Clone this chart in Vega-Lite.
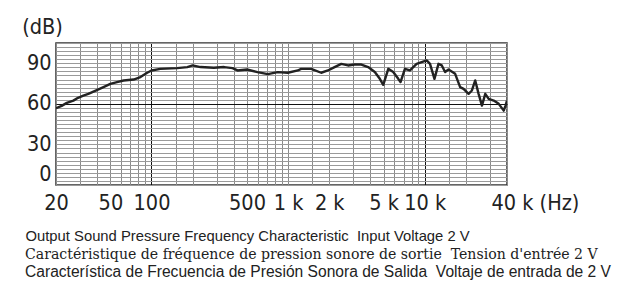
{
  "$schema": "https://vega.github.io/schema/vega-lite/v6.json",
  "width": 451,
  "height": 142,
  "autosize": {"type": "none"},
  "padding": {"left": 56, "top": 43, "right": 121, "bottom": 108},
  "background": "#ffffff",
  "config": {
    "view": {"stroke": "#333333", "strokeWidth": 1.5},
    "font": "Liberation Sans"
  },
  "title": {
    "text": "Caractéristique de fréquence de pression sonore de sortie\u00a0 Tension d'entrée 2 V",
    "subtitle": "Característica de Frecuencia de Presión Sonora de Salida\u00a0 Voltaje de entrada de 2 V",
    "orient": "bottom",
    "anchor": "start",
    "frame": "group",
    "dx": -31,
    "offset": 5,
    "font": "DejaVu Serif",
    "fontSize": 14.1,
    "fontWeight": "normal",
    "color": "#222222",
    "subtitleFont": "Liberation Sans",
    "subtitleFontSize": 15.6,
    "subtitleColor": "#222222",
    "subtitlePadding": 3
  },
  "data": {
    "values": [
      {"freq": 20, "spl": 56.8},
      {"freq": 22, "spl": 58.5},
      {"freq": 24, "spl": 60.7},
      {"freq": 26.8, "spl": 62.4},
      {"freq": 29, "spl": 64.5},
      {"freq": 31.7, "spl": 66.1},
      {"freq": 34.5, "spl": 67.4},
      {"freq": 37.6, "spl": 69.1},
      {"freq": 44.5, "spl": 72.4},
      {"freq": 50, "spl": 74.8},
      {"freq": 55.9, "spl": 76.1},
      {"freq": 62.5, "spl": 77.3},
      {"freq": 74, "spl": 78},
      {"freq": 83, "spl": 79.8},
      {"freq": 93, "spl": 83},
      {"freq": 100, "spl": 84.7},
      {"freq": 116, "spl": 85.9},
      {"freq": 154, "spl": 86.4},
      {"freq": 183, "spl": 87.2},
      {"freq": 200, "spl": 88.4},
      {"freq": 228, "spl": 87.2},
      {"freq": 286, "spl": 86.7},
      {"freq": 340, "spl": 87.2},
      {"freq": 392, "spl": 86.4},
      {"freq": 426, "spl": 84.7},
      {"freq": 500, "spl": 85.4},
      {"freq": 596, "spl": 83.5},
      {"freq": 710, "spl": 82},
      {"freq": 840, "spl": 83.5},
      {"freq": 994, "spl": 83},
      {"freq": 1178, "spl": 84.7},
      {"freq": 1245, "spl": 85.9},
      {"freq": 1475, "spl": 85.9},
      {"freq": 1746, "spl": 83},
      {"freq": 1956, "spl": 84.7},
      {"freq": 2188, "spl": 87.2},
      {"freq": 2450, "spl": 89.6},
      {"freq": 2746, "spl": 88.4},
      {"freq": 3069, "spl": 89.1},
      {"freq": 3437, "spl": 89.1},
      {"freq": 3853, "spl": 87.2},
      {"freq": 4310, "spl": 83.5},
      {"freq": 4690, "spl": 78.5},
      {"freq": 4970, "spl": 74.1},
      {"freq": 5410, "spl": 85.9},
      {"freq": 5880, "spl": 83.5},
      {"freq": 6400, "spl": 78.5},
      {"freq": 6650, "spl": 76.1},
      {"freq": 7160, "spl": 85.9},
      {"freq": 7790, "spl": 84.7},
      {"freq": 8720, "spl": 89.6},
      {"freq": 9490, "spl": 90.9},
      {"freq": 10330, "spl": 92.1},
      {"freq": 10930, "spl": 89.6},
      {"freq": 11780, "spl": 78.5},
      {"freq": 12600, "spl": 89.6},
      {"freq": 13330, "spl": 88.4},
      {"freq": 14090, "spl": 83.5},
      {"freq": 14930, "spl": 85.4},
      {"freq": 16690, "spl": 82.2},
      {"freq": 18160, "spl": 72.4},
      {"freq": 19230, "spl": 71.1},
      {"freq": 20940, "spl": 67.4},
      {"freq": 22140, "spl": 69.9},
      {"freq": 23410, "spl": 77.3},
      {"freq": 24790, "spl": 67.4},
      {"freq": 26220, "spl": 58.7},
      {"freq": 27740, "spl": 67.4},
      {"freq": 29370, "spl": 63.7},
      {"freq": 31970, "spl": 62.4},
      {"freq": 34790, "spl": 60},
      {"freq": 37850, "spl": 55},
      {"freq": 39000, "spl": 58.7},
      {"freq": 40000, "spl": 62.4}
    ]
  },
  "mark": {"type": "line", "color": "#222222", "strokeWidth": 2.4, "strokeJoin": "round", "clip": true},
  "encoding": {
    "x": {
      "field": "freq",
      "type": "quantitative",
      "scale": {"type": "log", "domain": [20, 40000], "nice": false},
      "axis": {
        "values": [20, 30, 40, 50, 60, 70, 80, 90, 100, 150, 200, 300, 400, 500, 600, 700, 800, 900, 1000, 1500, 2000, 3000, 4000, 5000, 6000, 7000, 8000, 9000, 10000, 15000, 20000, 30000, 40000],
        "labelExpr": "datum.value==20?'20':datum.value==50?'50':datum.value==100?'100':datum.value==500?'500':datum.value==1000?'1 k':datum.value==2000?'2 k':datum.value==5000?'5 k':datum.value==10000?'10 k':datum.value==40000?'40 k (Hz)':''",
        "labelAlign": {"condition": {"test": "datum.value==40000", "value": "left"}, "value": "center"},
        "labelOffset": {"condition": {"test": "datum.value==40000", "value": -16}, "value": 0},
        "labelOverlap": false,
        "labelFlush": false,
        "labelBound": false,
        "labelFont": "'DejaVu Sans Condensed', 'Roboto', sans-serif",
        "labelFontSize": 21.5,
        "labelColor": "#222222",
        "labelPadding": 7,
        "ticks": false,
        "domain": false,
        "grid": true,
        "gridColor": {"condition": {"test": "datum.value==100 || datum.value==10000", "value": "#111111"}, "value": "#8a8a8a"},
        "gridWidth": 1,
        "gridOpacity": 1,
        "title": "Output Sound Pressure Frequency Characteristic\u00a0 Input Voltage 2 V",
        "titleFont": "Liberation Sans",
        "titleFontSize": 14.8,
        "titleFontWeight": "normal",
        "titleColor": "#222222",
        "titleAnchor": "start",
        "titleAlign": "left",
        "titleBaseline": "alphabetic",
        "titleX": -31,
        "titleY": 55
      }
    },
    "y": {
      "field": "spl",
      "type": "quantitative",
      "scale": {"domain": [0, 105], "nice": false},
      "axis": {
        "values": [0, 3, 6, 9, 12, 15, 18, 21, 24, 27, 30, 33, 36, 39, 42, 45, 48, 51, 54, 57, 60, 63, 66, 69, 72, 75, 78, 81, 84, 87, 90, 93, 96, 99, 102, 105],
        "labelExpr": "datum.value % 30 == 0 ? datum.label : ''",
        "labelOverlap": false,
        "labelFlush": true,
        "labelBound": false,
        "labelFont": "'DejaVu Sans Condensed', 'Roboto', sans-serif",
        "labelFontSize": 21.5,
        "labelColor": "#222222",
        "labelPadding": 5,
        "ticks": false,
        "domain": false,
        "grid": true,
        "gridColor": {"condition": {"test": "datum.value==60", "value": "#111111"}, "value": "#9a9a9a"},
        "gridWidth": 1,
        "gridOpacity": 1,
        "title": "(dB)",
        "titleFont": "'DejaVu Sans Condensed', 'Roboto', sans-serif",
        "titleFontSize": 21.5,
        "titleFontWeight": "normal",
        "titleColor": "#222222",
        "titleAngle": 0,
        "titleAlign": "center",
        "titleBaseline": "middle",
        "titleX": -14,
        "titleY": -16
      }
    }
  }
}
